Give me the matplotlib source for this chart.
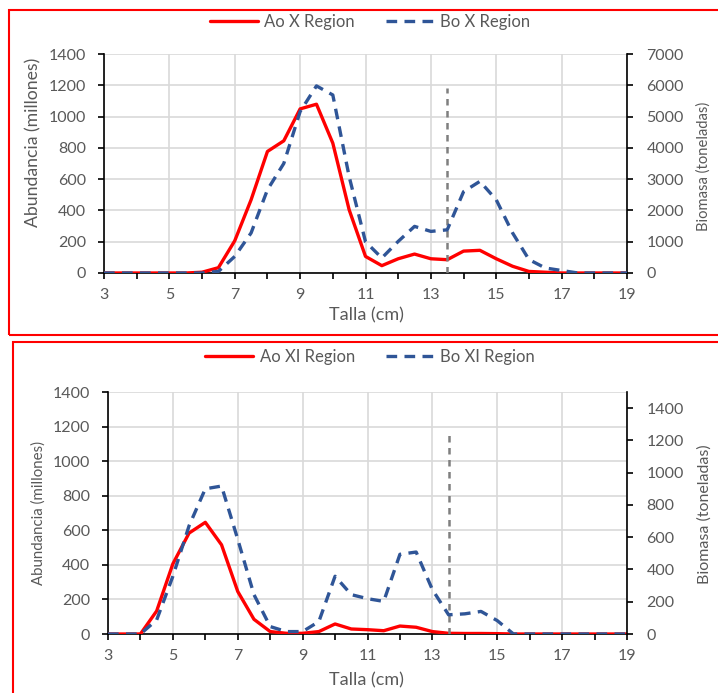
import matplotlib
matplotlib.use("Agg")
import matplotlib.pyplot as plt
from matplotlib.patches import Rectangle
from matplotlib.ticker import FixedLocator

plt.rcParams['font.family'] = ['Lato', 'DejaVu Sans']

tallas = [3, 3.5, 4, 4.5, 5, 5.5, 6, 6.5, 7, 7.5, 8, 8.5, 9, 9.5, 10, 10.5, 11,
          11.5, 12, 12.5, 13, 13.5, 14, 14.5, 15, 15.5, 16, 16.5, 17, 17.5, 18, 18.5, 19]
x_ticks = [3, 5, 7, 9, 11, 13, 15, 17, 19]
x_minor = [4, 6, 8, 10, 12, 14, 16, 18]

ao_x = [0, 0, 0, 0, 0, 0, 5, 34, 206, 468, 777, 845, 1049, 1079, 830, 404, 106,
        47, 91, 121, 91, 85, 140, 145, 91, 43, 10, 5, 0, 0, 0, 0, 0]
bo_x = [0, 0, 0, 0, 0, 0, 0, 50, 530, 1280, 2660, 3500, 5160, 5980, 5690, 3080, 1000,
        480, 1010, 1490, 1330, 1380, 2600, 2930, 2340, 1280, 430, 160, 80, 0, 0, 0, 0]

ao_xi = [0, 0, 0, 133, 406, 584, 646, 516, 246, 85, 14, 4, 4, 14, 58, 29, 25,
         19, 46, 39, 14, 4, 3, 3, 2, 0, 0, 0, 0, 0, 0, 0, 0]
bo_xi = [0, 0, 0, 87, 358, 671, 900, 917, 587, 244, 46, 15, 15, 77, 358, 244, 219,
         202, 494, 508, 275, 119, 125, 140, 83, 0, 0, 0, 0, 0, 0, 0, 0]

corte_talla = 13.5
corte_top = 1180

W, H = 718, 693
fig = plt.figure(figsize=(W / 100, H / 100), dpi=100)

def fx(px):
    return px / W

def fy(py):
    return 1 - py / H

GRAY = '#595959'
RED = '#FF0000'
BLUE = '#2F5597'

def panel(left, right, top, bottom, ao, bo, right_max, right_step, right_tick_max,
          names, legend_y, title_y, ylab, y2lab):
    ax = fig.add_axes([fx(left), fy(bottom), fx(right - left), (bottom - top) / H])
    ax2 = ax.twinx()
    ax.plot(tallas, ao, color=RED, lw=2.4, solid_capstyle='round', label=names[0], zorder=3)
    ax2.plot(tallas, bo, color=BLUE, lw=2.4, dashes=(3.2, 2.2), label=names[1], zorder=3)
    ax.plot([corte_talla, corte_talla], [0, corte_top], color='#7F7F7F', lw=1.8,
            dashes=(2.6, 2.2), zorder=4)
    ax.set_xlim(3, 19)
    ax.set_ylim(0, 1400)
    ax2.set_ylim(0, right_max)
    ax.xaxis.set_major_locator(FixedLocator(x_ticks))
    ax.xaxis.set_minor_locator(FixedLocator(x_minor))
    ax.set_yticks(range(0, 1401, 200))
    ax2.set_yticks(range(0, right_tick_max + 1, right_step))
    ax.grid(True, which='major', color='#D9D9D9', lw=1.2)
    ax.set_axisbelow(True)
    for a in (ax, ax2):
        a.spines['top'].set_visible(False)
        for s in ('left', 'right', 'bottom'):
            a.spines[s].set_color('black')
            a.spines[s].set_linewidth(1.2)
    ax.spines['right'].set_visible(False)
    ax2.spines['left'].set_visible(False)
    ax2.spines['bottom'].set_visible(False)
    ax.tick_params(axis='x', which='both', direction='out', length=4, width=1.2,
                   colors='black', labelcolor=GRAY, labelsize=11.5, pad=7)
    ax.tick_params(axis='y', direction='out', length=4, width=1.2, colors='black',
                   labelcolor=GRAY, labelsize=11.5, pad=9)
    ax2.tick_params(axis='y', direction='out', length=4, width=1.2, colors='black',
                    labelcolor=GRAY, labelsize=11.5, pad=10)
    h1, l1 = ax.get_legend_handles_labels()
    h2, l2 = ax2.get_legend_handles_labels()
    fig.legend(h1 + h2, l1 + l2, loc='center', bbox_to_anchor=(fx(370), fy(legend_y)),
               ncol=2, frameon=False, fontsize=12, labelcolor=GRAY, handlelength=2.85,
               columnspacing=1.85, handletextpad=0.4, borderaxespad=0, borderpad=0)
    fig.text(fx(366), fy(title_y), 'Talla (cm)', ha='center', va='center',
             color=GRAY, fontsize=13)
    fig.text(fx(ylab[0]), fy(ylab[1]), 'Abundancia (millones)', rotation=90,
             ha='center', va='center', color=GRAY, fontsize=ylab[2])
    fig.text(fx(y2lab[0]), fy(y2lab[1]), 'Biomasa (toneladas)', rotation=90,
             ha='center', va='center', color=GRAY, fontsize=y2lab[2])
    return ax, ax2

panel(104, 627, 54, 273, ao_x, bo_x, 7000, 1000, 7000,
      ['Ao X Region', 'Bo X Region'], 22, 315, (33, 142, 12.7), (704, 166, 10.6))
panel(108, 627, 392, 634, ao_xi, bo_xi, 1500, 200, 1400,
      ['Ao XI Region', 'Bo XI Region'], 357, 680, (39, 513, 10.8), (705, 514, 11.5))

fig.patches.append(Rectangle((fx(9), fy(335)), fx(730 - 9), (335 - 10) / H,
                             transform=fig.transFigure, fill=False, edgecolor=RED, lw=1.5))
fig.patches.append(Rectangle((fx(13), fy(705)), fx(730 - 13), (705 - 342) / H,
                             transform=fig.transFigure, fill=False, edgecolor=RED, lw=1.5))

fig.savefig('out.png', dpi=100)
